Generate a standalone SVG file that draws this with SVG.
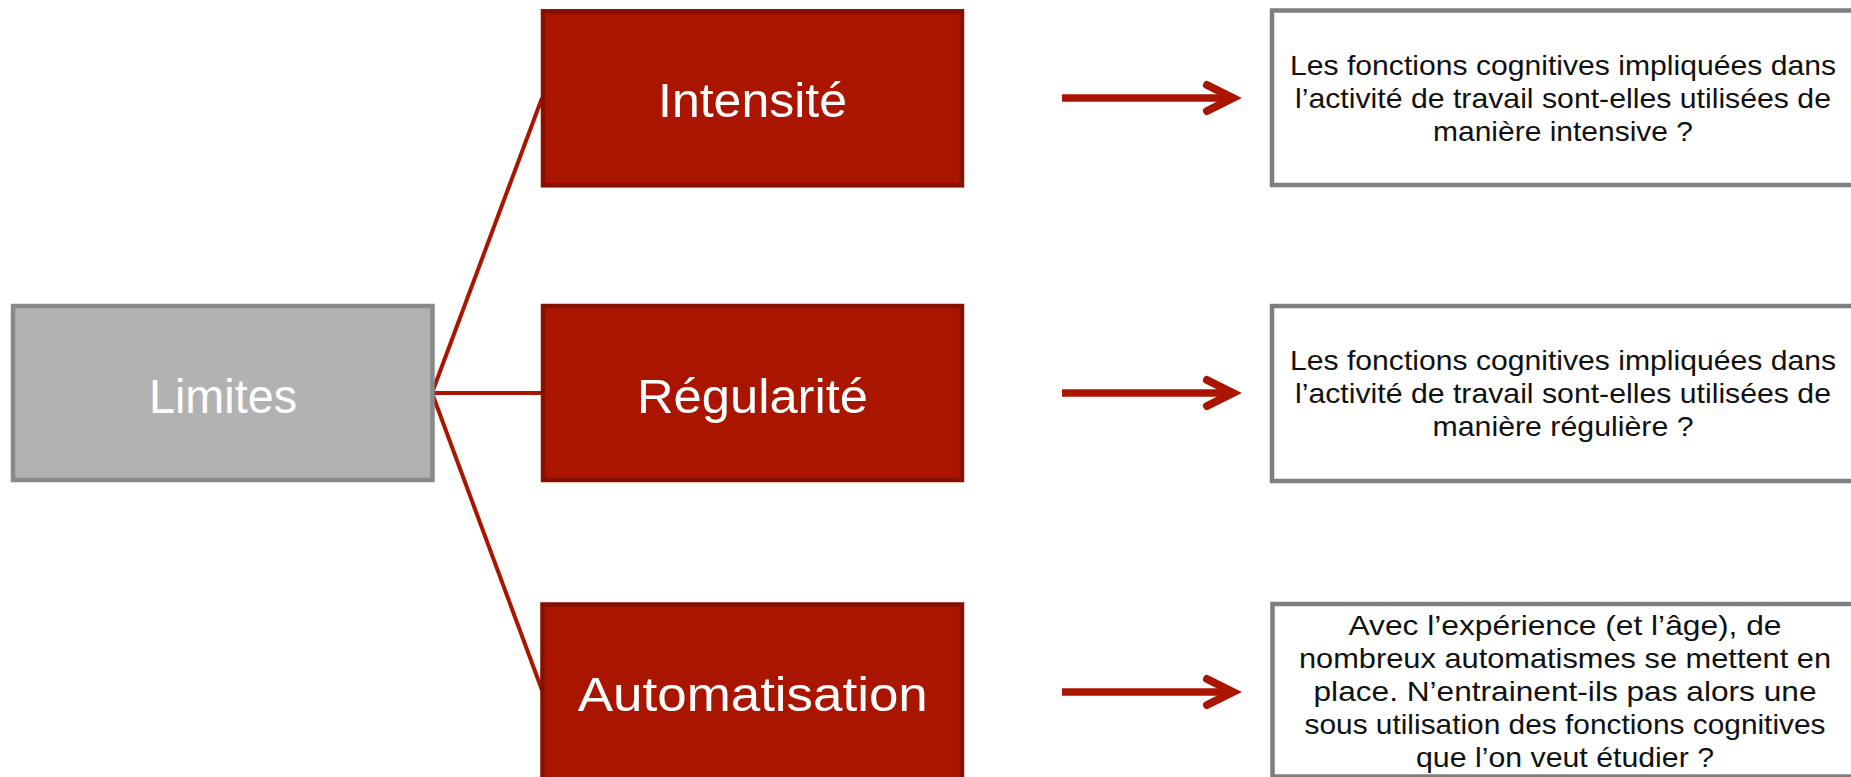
<svg xmlns="http://www.w3.org/2000/svg" width="1851" height="777" viewBox="0 0 1851 777">
<style>
.gray{fill:#B2B2B2;stroke:#898989;stroke-width:4.5}
.red{fill:#AA1500;stroke:#861000;stroke-width:4.5}
.note{fill:#FFFFFF;stroke:#7F7F7F;stroke-width:4.5}
.big{font-family:"Liberation Sans",Arial,sans-serif;font-size:48px;fill:#FFFFFF;text-anchor:middle}
.txt{font-family:"Liberation Sans",Arial,sans-serif;font-size:28px;fill:#111111;text-anchor:middle}
.conn{stroke:#AA1500;stroke-width:4;fill:none}
.arrow{stroke:#AA1500;stroke-width:7.5;fill:none}
.head{stroke:#AA1500;stroke-width:8;fill:none;stroke-linecap:round;stroke-linejoin:miter}
</style>
<rect width="1851" height="777" fill="#FFFFFF"/>
<g id="connectors">
<line class="conn" x1="432" y1="393" x2="542" y2="98"/>
<line class="conn" x1="432" y1="393" x2="542" y2="393"/>
<line class="conn" x1="432" y1="393" x2="542" y2="690"/>
<g id="arrow1"><line class="arrow" x1="1062" y1="98" x2="1228" y2="98"/><path class="head" d="M1207,85 L1233,98 L1207,111"/></g>
<g id="arrow2"><line class="arrow" x1="1062" y1="393" x2="1228" y2="393"/><path class="head" d="M1207,380 L1233,393 L1207,406"/></g>
<g id="arrow3"><line class="arrow" x1="1062" y1="692" x2="1228" y2="692"/><path class="head" d="M1207,679 L1233,692 L1207,705"/></g>
</g>
<g id="limites">
<rect class="gray" x="13" y="306" width="419.5" height="174"/>
<text class="big" x="223" y="413" textLength="148" lengthAdjust="spacingAndGlyphs">Limites</text>
</g>
<g id="intensite">
<rect class="red" x="543" y="11.3" width="419" height="174"/>
<text class="big" x="752.5" y="117" textLength="189" lengthAdjust="spacingAndGlyphs">Intensité</text>
</g>
<g id="regularite">
<rect class="red" x="543" y="306" width="419" height="174"/>
<text class="big" x="752.5" y="413" textLength="231" lengthAdjust="spacingAndGlyphs">Régularité</text>
</g>
<g id="automatisation">
<rect class="red" x="542.5" y="604.5" width="419.5" height="200"/>
<text class="big" x="752.8" y="710.5" textLength="350" lengthAdjust="spacingAndGlyphs">Automatisation</text>
</g>
<g id="note1">
<rect class="note" x="1272" y="10.5" width="620" height="174.5"/>
<text class="txt" x="1563" y="75" textLength="546" lengthAdjust="spacingAndGlyphs">Les fonctions cognitives impliquées dans</text>
<text class="txt" x="1563" y="108" textLength="536" lengthAdjust="spacingAndGlyphs">l’activité de travail sont-elles utilisées de</text>
<text class="txt" x="1563" y="141" textLength="260" lengthAdjust="spacingAndGlyphs">manière intensive ?</text>
</g>
<g id="note2">
<rect class="note" x="1272" y="306" width="620" height="175"/>
<text class="txt" x="1563" y="370" textLength="546" lengthAdjust="spacingAndGlyphs">Les fonctions cognitives impliquées dans</text>
<text class="txt" x="1563" y="403" textLength="536" lengthAdjust="spacingAndGlyphs">l’activité de travail sont-elles utilisées de</text>
<text class="txt" x="1563" y="436" textLength="261" lengthAdjust="spacingAndGlyphs">manière régulière ?</text>
</g>
<g id="note3">
<rect class="note" x="1272.5" y="604" width="620" height="172.5"/>
<text class="txt" x="1565" y="635" textLength="433" lengthAdjust="spacingAndGlyphs">Avec l’expérience (et l’âge), de</text>
<text class="txt" x="1565" y="668" textLength="532" lengthAdjust="spacingAndGlyphs">nombreux automatismes se mettent en</text>
<text class="txt" x="1565" y="701" textLength="503" lengthAdjust="spacingAndGlyphs">place. N’entrainent-ils pas alors une</text>
<text class="txt" x="1565" y="734" textLength="521" lengthAdjust="spacingAndGlyphs">sous utilisation des fonctions cognitives</text>
<text class="txt" x="1565" y="767" textLength="298" lengthAdjust="spacingAndGlyphs">que l’on veut étudier ?</text>
</g>
</svg>
